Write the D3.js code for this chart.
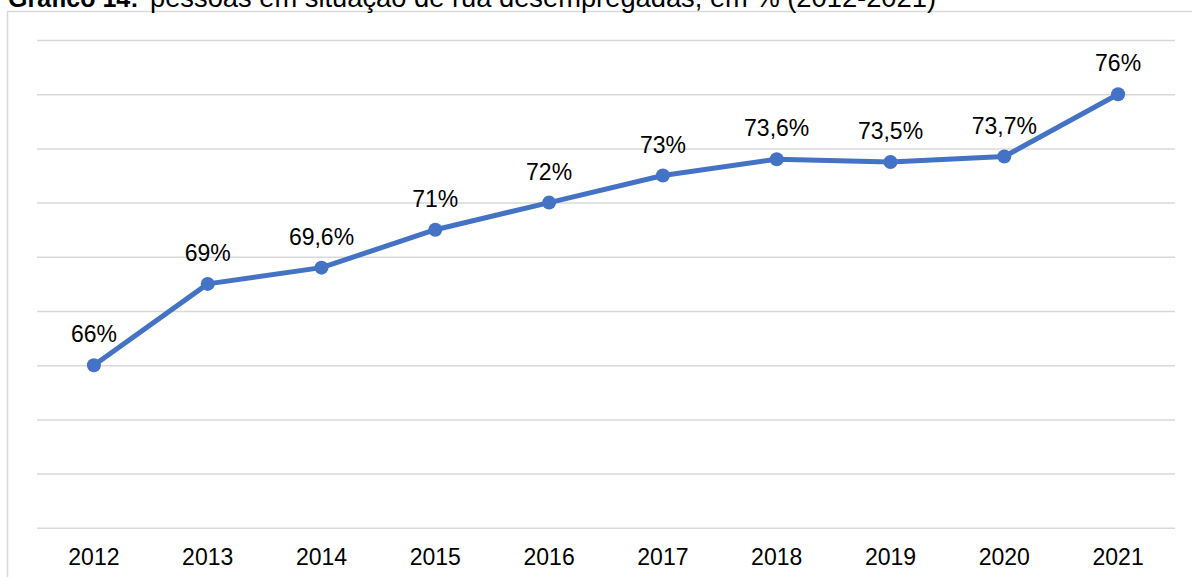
<!DOCTYPE html>
<html>
<head>
<meta charset="utf-8">
<script src="https://cdn.jsdelivr.net/npm/d3@7"></script>
<style>
  html, body { margin: 0; padding: 0; background: #fff; }
  svg { display: block; font-family: "Liberation Sans", Arial, sans-serif; }
</style>
</head>
<body>
<svg id="chart" width="1192" height="577"></svg>
<script>
// DATA
const years = ["2012", "2013", "2014", "2015", "2016", "2017", "2018", "2019", "2020", "2021"];
const values = [66, 69, 69.6, 71, 72, 73, 73.6, 73.5, 73.7, 76];
const yTicks = [60, 62, 64, 66, 68, 70, 72, 74, 76, 78];
const titleBold = "Gráfico 14:";
const titleRest = "pessoas em situação de rua desempregadas, em % (2012-2021)";

// CANVAS SETUP
const svg = d3.select("#chart");
const width = 1192, height = 577;
const plot = { left: 37, right: 1175, top: 40, bottom: 527.8 };

const xScale = d3.scaleBand()
  .domain(years)
  .range([plot.left, plot.right]);

const yScale = d3.scaleLinear()
  .domain([60, 78])
  .range([plot.bottom, plot.top]);

const fmt = (v) => String(v).replace(".", ",") + "%";

// chart frame (only left and top edges are in view)
svg.append("rect")
  .attr("x", 7.5)
  .attr("y", 11.5)
  .attr("width", 1300)
  .attr("height", 700)
  .attr("fill", "none")
  .attr("stroke", "#d9d9d9")
  .attr("stroke-width", 1.5);

// title, cut off at top like the source
const title = svg.append("text")
  .attr("y", 7)
  .attr("fill", "#000");
title.append("tspan")
  .attr("x", 8)
  .attr("font-weight", "bold")
  .attr("font-size", 25)
  .text(titleBold);
title.append("tspan")
  .attr("x", 150)
  .attr("font-size", 27.3)
  .text(titleRest);

// gridlines
svg.append("g")
  .attr("transform", `translate(${plot.left},0)`)
  .call(d3.axisLeft(yScale).tickValues(yTicks).tickSize(-(plot.right - plot.left)).tickFormat(""))
  .call((g) => g.select(".domain").remove())
  .call((g) => g.selectAll(".tick line")
    .attr("stroke", "#d9d9d9")
    .attr("stroke-width", 1.5));

// x axis
svg.append("g")
  .attr("transform", `translate(0,${plot.bottom})`)
  .call(d3.axisBottom(xScale).tickSize(0))
  .call((g) => g.select(".domain").remove())
  .call((g) => g.selectAll("text")
    .attr("y", 37)
    .attr("dy", 0)
    .attr("fill", "#000")
    .attr("font-size", 23)
    .attr("font-family", "Liberation Sans, Arial, sans-serif"));

// RENDER
const cx = (d, i) => xScale(years[i]) + xScale.bandwidth() / 2;
const pts = values.map((v, i) => [cx(v, i), yScale(v)]);

svg.append("path")
  .datum(pts)
  .attr("fill", "none")
  .attr("stroke", "#4472c4")
  .attr("stroke-width", 5)
  .attr("stroke-linejoin", "round")
  .attr("stroke-linecap", "round")
  .attr("d", d3.line());

svg.append("g")
  .selectAll("circle")
  .data(values)
  .join("circle")
  .attr("cx", cx)
  .attr("cy", (d) => yScale(d))
  .attr("r", 7)
  .attr("fill", "#4472c4");

svg.append("g")
  .selectAll("text")
  .data(values)
  .join("text")
  .attr("x", cx)
  .attr("y", (d) => yScale(d) - 23)
  .attr("text-anchor", "middle")
  .attr("font-size", 23)
  .attr("fill", "#000")
  .text(fmt);
</script>
</body>
</html>
